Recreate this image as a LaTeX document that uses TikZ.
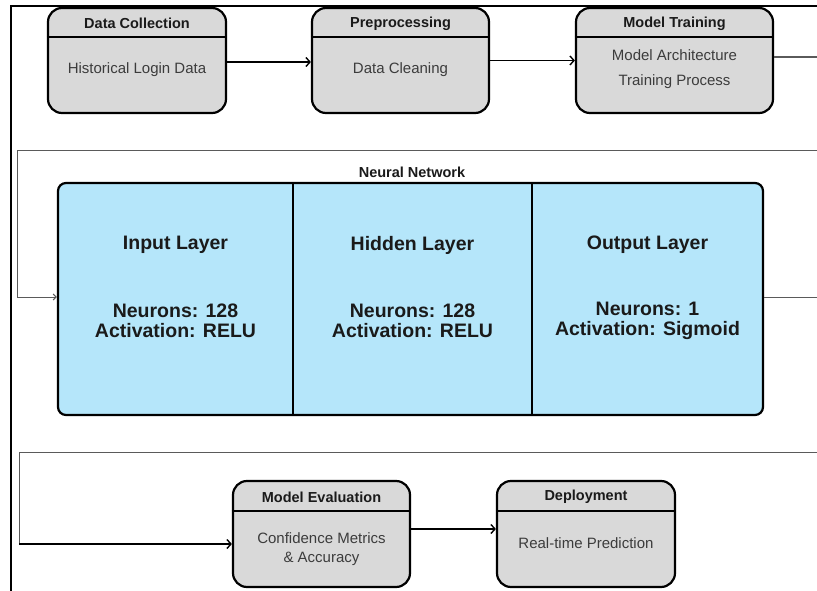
\documentclass[tikz,border=0pt]{standalone}
\usepackage{fontspec}
\setmainfont{Liberation Sans}
\usetikzlibrary{arrows.meta}
\definecolor{boxgray}{HTML}{D9D9D9}
\definecolor{nnblue}{HTML}{B5E6FA}
\definecolor{bodytxt}{HTML}{3C3C3C}
\definecolor{titletxt}{HTML}{1A1A1A}
\definecolor{framegray}{HTML}{5A5A5A}
\begin{document}
\begin{tikzpicture}[x=1pt,y=-1pt,
  stagebox/.style={draw=black, line width=2.2pt, fill=boxgray, rounded corners=14pt,
    minimum height=105pt, inner sep=0pt},
  divider/.style={draw=black, line width=2pt},
  stagetitle/.style={font=\bfseries\fontsize{14.5}{17}\selectfont, text=titletxt, inner sep=0pt},
  stagebody/.style={font=\fontsize{15}{25}\selectfont, text=bodytxt, align=center, inner sep=0pt},
  flow/.style={draw=black, line width=1.4pt, -{Straight Barb[length=4pt,width=9pt,line width=1.4pt]}},
  flowend/.style={draw=framegray, line width=1.2pt},
  outerframe/.style={draw=black, line width=1.5pt},
  groupframe/.style={draw=framegray, line width=1pt},
  nnbox/.style={draw=black, line width=2.2pt, fill=nnblue, rounded corners=8pt, inner sep=0pt},
  layertxt/.style={font=\bfseries\fontsize{19.5}{20.5}\selectfont, text=titletxt, align=center, inner sep=0pt},
  nntitle/.style={font=\bfseries\fontsize{14.5}{17}\selectfont, text=titletxt, inner sep=0pt}
]
\useasboundingbox (0,0) rectangle (817,591);
\fill[white] (0,0) rectangle (817,591);

% outer frame
\draw[outerframe] (11,591) -- (11,6) -- (817,6);

% top row boxes
\node[stagebox, minimum width=178pt] (dc) at (137,60.5) {};
\node[stagebox, minimum width=177pt] (pp) at (400.5,60.5) {};
\node[stagebox, minimum width=197pt] (mt) at (674.5,60.5) {};
\foreach \b in {dc,pp,mt}{
  \draw[divider] ([yshift=-30pt]\b.north west) -- ([yshift=-30pt]\b.north east);
}
\node[stagetitle] (dct) at (137,23.5) {Data Collection};
\node[stagetitle] (ppt) at (400.5,23.5) {Preprocessing};
\node[stagetitle] (mtt) at (674.5,23.5) {Model Training};
\node[stagebody] (dcb) at (137,70) {Historical Login Data};
\node[stagebody] (ppb) at (400.5,70) {Data Cleaning};
\node[stagebody] (mtb) at (674.5,69.5) {Model Architecture\\Training Process};

\coordinate (mtout) at (817,57);
\draw[flow] ([yshift=-1.5pt]dc.east) -- ([yshift=-1.5pt]pp.west);
\draw[flow] ([yshift=0pt]pp.east) -- ([yshift=0pt]mt.west);
\draw[flowend] (mt.east |- mtout) -- (mtout);

% neural network group
\coordinate (nnfr) at (817,151);
\coordinate (nnfl) at (17,151);
\coordinate (nnfb) at (17,297);
\draw[groupframe] (nnfr) -- (nnfl) -- (nnfb);
\node[nntitle] (nnt) at (412,172) {Neural Network};
\node[nnbox, minimum width=705pt, minimum height=232pt] (nn) at (410.5,299) {};
\draw[divider] (293,184) -- (293,414);
\draw[divider] (532,184) -- (532,414);
\draw[groupframe, -{Straight Barb[length=3pt,width=6pt]}] (nnfb) -- (nn.west |- nnfb);
\coordinate (nnout) at (817,297);
\draw[groupframe] (nn.east |- nnout) -- (nnout);

\node[layertxt] (inl) at (175.5,245) {Input Layer};
\node[layertxt] (hil) at (412.5,245) {Hidden Layer};
\node[layertxt] (oul) at (647.5,245) {Output Layer};
\node[layertxt] (inn) at (175.5,321) {Neurons: 128\\Activation: RELU};
\node[layertxt] (hin) at (412.5,321) {Neurons: 128\\Activation: RELU};
\node[layertxt] (oun) at (647.5,321) {Neurons: 1\\Activation: Sigmoid};

% bottom group
\coordinate (evfr) at (817,452);
\coordinate (evfl) at (19,452);
\coordinate (evfb) at (19,544);
\draw[groupframe] (evfr) -- (evfl) -- (evfb);

\node[stagebox, minimum width=177pt, minimum height=106pt] (ev) at (321.5,534) {};
\node[stagebox, minimum width=178pt, minimum height=106pt] (dp) at (586,534) {};
\foreach \b in {ev,dp}{
  \draw[divider] ([yshift=-31pt]\b.north west) -- ([yshift=-31pt]\b.north east);
}
\node[stagetitle] (evt) at (321.5,497) {Model Evaluation};
\node[stagetitle] (dpt) at (586,497) {Deployment};
\node[stagebody, font=\fontsize{15}{18.5}\selectfont] (evb) at (321.5,549) {Confidence Metrics\\\& Accuracy};
\node[stagebody] (dpb) at (586,543) {Real-time Prediction};

\draw[flow, draw=black] (evfb) -- (ev.west |- evfb);
\draw[flow] ([yshift=5pt]ev.east) -- ([yshift=5pt]dp.west);
\end{tikzpicture}
\end{document}
